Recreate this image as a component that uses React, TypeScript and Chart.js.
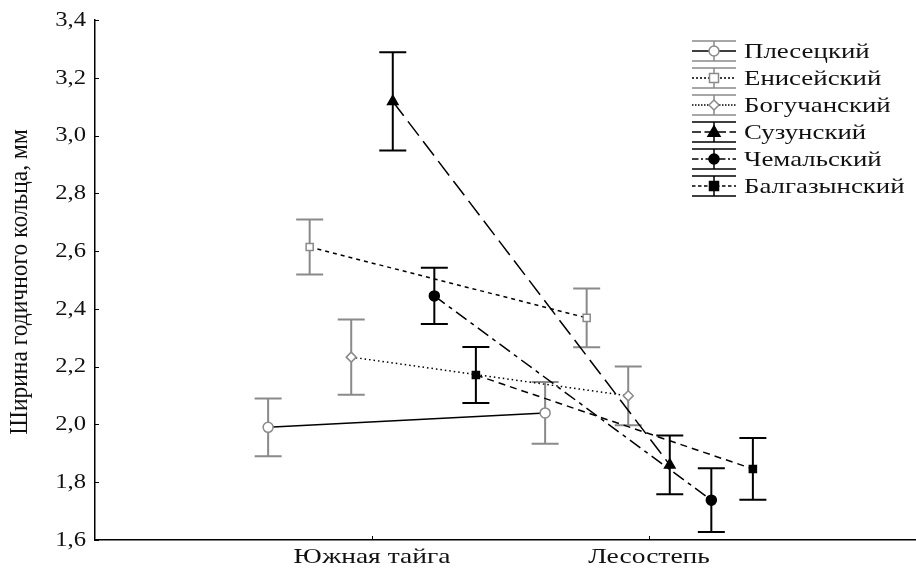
import React, { useEffect, useRef } from "react";
import { Chart, registerables } from "chart.js";

Chart.register(...registerables);

const categories = ["Южная тайга", "Лесостепь"];
const seriesNames = ["Плесецкий", "Енисейский", "Богучанский", "Сузунский", "Чемальский", "Балгазынский"];
const plesetsky = [1.99, 2.04];
const plesetskyErr = [0.1, 0.107];
const eniseisky = [2.614, 2.369];
const eniseiskyErr = [0.095, 0.102];
const boguchansky = [2.233, 2.099];
const boguchanskyErr = [0.13, 0.102];
const suzunsky = [3.118, 1.86];
const suzunskyErr = [0.17, 0.102];
const chemalsky = [2.445, 1.738];
const chemalskyErr = [0.097, 0.11];
const balgazynsky = [2.171, 1.846];
const balgazynskyErr = [0.097, 0.107];
const yTicks = [1.6, 1.8, 2.0, 2.2, 2.4, 2.6, 2.8, 3.0, 3.2, 3.4];
const yTitle = "Ширина годичного кольца, мм";

const GREY = "#8a8a8a";
const seriesValues = [plesetsky, eniseisky, boguchansky, suzunsky, chemalsky, balgazynsky];
const seriesErrors = [plesetskyErr, eniseiskyErr, boguchanskyErr, suzunskyErr, chemalskyErr, balgazynskyErr];
const styles = [
  { point: "circle", color: GREY, fill: "#ffffff", dash: [] as number[], radius: 5 },
  { point: "rect", color: GREY, fill: "#ffffff", dash: [4, 4], radius: 5 },
  { point: "rectRot", color: GREY, fill: "#ffffff", dash: [1.5, 3], radius: 5 },
  { point: "triangle", color: "#000000", fill: "#000000", dash: [18, 7], radius: 6 },
  { point: "circle", color: "#000000", fill: "#000000", dash: [13, 5, 4, 5], radius: 5 },
  { point: "rect", color: "#000000", fill: "#000000", dash: [7, 5], radius: 5 },
];
const offsets = [-0.375, -0.225, -0.075, 0.075, 0.225, 0.375];

const SERIF = "'Liberation Serif', 'DejaVu Serif', serif";
const STRETCH = 1.22;

function drawMarker(ctx: CanvasRenderingContext2D, kind: string, x: number, y: number, r: number, stroke: string, fill: string) {
  ctx.save();
  ctx.setLineDash([]);
  ctx.lineWidth = 1.5;
  ctx.strokeStyle = stroke;
  ctx.fillStyle = fill;
  ctx.beginPath();
  if (kind === "circle") ctx.arc(x, y, r, 0, Math.PI * 2);
  else if (kind === "rect") ctx.rect(x - r * 0.9, y - r * 0.9, r * 1.8, r * 1.8);
  else if (kind === "rectRot") {
    ctx.moveTo(x, y - r); ctx.lineTo(x + r, y); ctx.lineTo(x, y + r); ctx.lineTo(x - r, y); ctx.closePath();
  } else if (kind === "triangle") {
    ctx.moveTo(x, y - r); ctx.lineTo(x + r, y + r * 0.7); ctx.lineTo(x - r, y + r * 0.7); ctx.closePath();
  }
  ctx.fill();
  ctx.stroke();
  ctx.restore();
}

function stretchedText(ctx: CanvasRenderingContext2D, text: string, x: number, y: number, align: "left" | "right" | "center", sx: number) {
  ctx.save();
  ctx.translate(x, y);
  ctx.scale(sx, 1);
  ctx.textAlign = align;
  ctx.fillText(text, 0, 0);
  ctx.restore();
}

const errorBarsPlugin = {
  id: "errorBars",
  beforeDatasetsDraw(chart: any) {
    const ctx = chart.ctx as CanvasRenderingContext2D;
    const xs = chart.scales.x;
    const ys = chart.scales.y;
    ctx.save();
    seriesValues.forEach((vals, si) => {
      const st = styles[si];
      ctx.strokeStyle = st.color;
      ctx.lineWidth = 2;
      ctx.setLineDash([]);
      vals.forEach((v, ci) => {
        const e = seriesErrors[si][ci];
        const px = xs.getPixelForValue(ci + 1 + offsets[si]);
        const top = ys.getPixelForValue(v + e);
        const bot = ys.getPixelForValue(v - e);
        ctx.beginPath();
        ctx.moveTo(px, top); ctx.lineTo(px, bot);
        ctx.moveTo(px - 13.5, top); ctx.lineTo(px + 13.5, top);
        ctx.moveTo(px - 13.5, bot); ctx.lineTo(px + 13.5, bot);
        ctx.stroke();
      });
    });
    ctx.restore();
  },
  afterDraw(chart: any) {
    const ctx = chart.ctx as CanvasRenderingContext2D;
    const xs = chart.scales.x;
    const ys = chart.scales.y;
    const area = chart.chartArea;
    ctx.save();
    // axis ticks (inward)
    ctx.strokeStyle = "#000";
    ctx.lineWidth = 1;
    ctx.setLineDash([]);
    ctx.beginPath();
    yTicks.forEach((t) => {
      const py = Math.round(ys.getPixelForValue(t)) + 0.5;
      ctx.moveTo(area.left, py); ctx.lineTo(area.left + 4, py);
    });
    [1, 2].forEach((t) => {
      const px = Math.round(xs.getPixelForValue(t)) + 0.5;
      ctx.moveTo(px, area.bottom); ctx.lineTo(px, area.bottom - 4);
    });
    ctx.stroke();

    ctx.fillStyle = "#111";
    ctx.textBaseline = "middle";
    // y tick labels
    ctx.font = `22px ${SERIF}`;
    yTicks.forEach((t) => {
      const py = ys.getPixelForValue(t);
      stretchedText(ctx, t.toFixed(1).replace(".", ","), 86, py, "right", 1.12);
    });
    // x tick labels
    ctx.font = `22px ${SERIF}`;
    categories.forEach((c, i) => {
      const px = xs.getPixelForValue(i + 1);
      stretchedText(ctx, c, px, 557, "center", 1.25);
    });
    // y title
    ctx.save();
    ctx.font = `23.5px ${SERIF}`;
    ctx.translate(21, 282);
    ctx.rotate(-Math.PI / 2);
    ctx.scale(1, 1.05);
    ctx.textAlign = "center";
    ctx.fillText(yTitle, 0, 0);
    ctx.restore();

    // legend
    const lx0 = 692, lx1 = 736, lxc = 714, ly0 = 51, step = 27;
    ctx.font = `22px ${SERIF}`;
    seriesNames.forEach((name, i) => {
      const st = styles[i];
      const yc = ly0 + step * i;
      ctx.strokeStyle = st.color;
      ctx.lineWidth = 1.5;
      ctx.setLineDash([]);
      ctx.beginPath();
      ctx.moveTo(lx0, yc - 10); ctx.lineTo(lx1, yc - 10);
      ctx.moveTo(lx0, yc + 10); ctx.lineTo(lx1, yc + 10);
      ctx.moveTo(lxc, yc - 10); ctx.lineTo(lxc, yc + 10);
      ctx.stroke();
      ctx.strokeStyle = "#000";
      ctx.lineWidth = 1.5;
      ctx.setLineDash(st.dash.length ? st.dash.map((d) => Math.max(1.5, d * 0.5)) : []);
      ctx.beginPath();
      ctx.moveTo(lx0, yc); ctx.lineTo(lx1, yc);
      ctx.stroke();
      drawMarker(ctx, st.point, lxc, yc, st.radius, st.color, st.fill);
      ctx.fillStyle = "#111";
      stretchedText(ctx, name, 744, yc + 1, "left", STRETCH);
    });
    ctx.restore();
  },
};

export default function App() {
  const ref = useRef<HTMLCanvasElement | null>(null);
  useEffect(() => {
    document.body.style.margin = "0";
    const datasets = seriesValues.map((vals, si) => ({
      label: seriesNames[si],
      data: vals.map((v, ci) => ({ x: ci + 1 + offsets[si], y: v })),
      showLine: true,
      borderColor: "#000",
      borderWidth: 1.5,
      borderDash: styles[si].dash,
      pointStyle: styles[si].point,
      pointRadius: styles[si].radius,
      pointBorderColor: styles[si].color,
      pointBackgroundColor: styles[si].fill,
      pointBorderWidth: 1.5,
      fill: false,
      clip: false,
    }));
    const chart = new Chart(ref.current!, {
      type: "scatter",
      data: { datasets },
      plugins: [errorBarsPlugin],
      options: {
        animation: false,
        responsive: false,
        layout: { autoPadding: false, padding: { top: 20, right: 0, left: 0, bottom: 0 } },
        plugins: { legend: { display: false }, tooltip: { enabled: false } },
        scales: {
          x: {
            type: "linear",
            min: 0,
            max: (916 - 95) / 277,
            grid: { display: false },
            border: { display: true, color: "#000", width: 1.5 },
            afterBuildTicks: (axis: any) => { axis.ticks = [{ value: 1 }, { value: 2 }]; },
            afterFit: (axis: any) => { axis.height = 30; },
            ticks: { display: false },
          },
          y: {
            type: "linear",
            min: 1.6,
            max: 3.4,
            grid: { display: false },
            border: { display: true, color: "#000", width: 1.5 },
            afterBuildTicks: (axis: any) => { axis.ticks = yTicks.map((v) => ({ value: v })); },
            afterFit: (axis: any) => { axis.width = 95; },
            ticks: { display: false },
          },
        },
      },
    } as any);
    return () => chart.destroy();
  }, []);
  return (
    <div style={{ position: "absolute", left: 0, top: 0, width: 916, height: 570, background: "#fff" }}>
      <canvas ref={ref} width={916} height={570} style={{ width: 916, height: 570 }} />
    </div>
  );
}
